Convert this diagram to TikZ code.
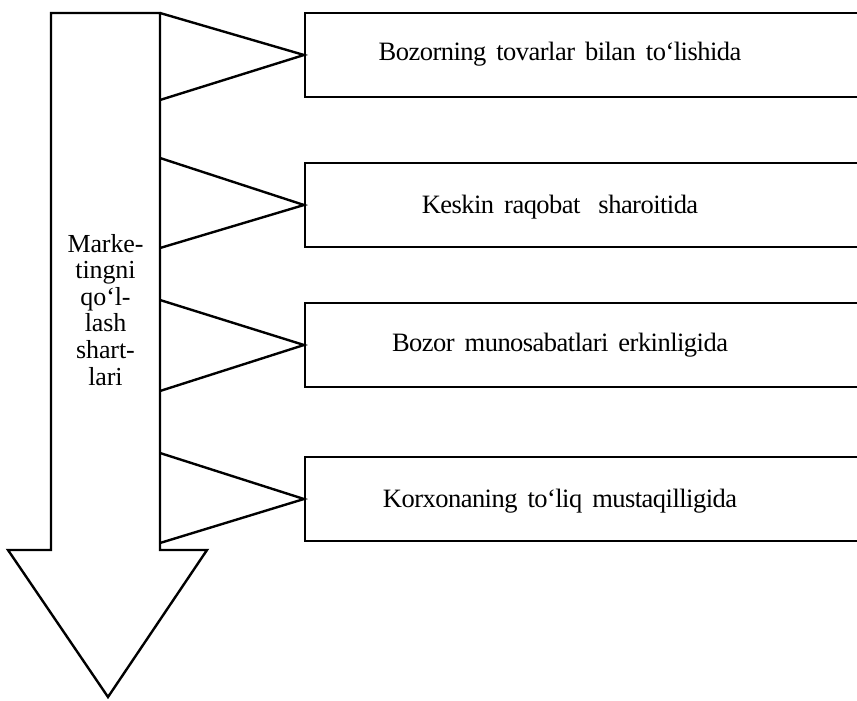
\documentclass[tikz,border=0pt]{standalone}
\usepackage{fontspec}
\setmainfont{Liberation Serif}
\newfontfamily\tfont[LetterSpace=-2]{Liberation Serif}
\newfontfamily\mfont[LetterSpace=-0.5]{Liberation Serif}
\newcommand{\gp}{\hspace{10pt}}
\begin{document}
\begin{tikzpicture}[x=1pt,y=-1pt,line width=2.4pt,line join=miter,
  box/.style={draw,rectangle,inner sep=0pt,minimum width=570pt,minimum height=84pt,anchor=west},
  txt/.style={inner sep=0pt,anchor=base,font=\tfont\fontsize{26.5}{27}\selectfont},
  cond/.style={line width=2.4pt}]
\useasboundingbox (0,0) rectangle (857,701);
% big arrow
\draw (51,13) -- (160,13) -- (160,550) -- (207,550) -- (108,697) -- (8,550) -- (51,550) -- cycle;
\node[inner sep=0pt,align=center,font=\mfont\fontsize{26}{26.6}\selectfont,anchor=base] (m) at (105.5,385)
  {Marke-\\tingni\\qo‘l-\\lash\\shart-\\lari};
% boxes
\node[box] (b1) at (304,55) {};
\node[box] (b2) at (304,205) {};
\node[box] (b3) at (304,345) {};
\node[box] (b4) at (304,499) {};
\node[txt] (t1) at (560,60) {Bozorning\gp tovarlar\gp bilan\gp to‘lishida};
\node[txt] (t2) at (560,213) {Keskin\gp raqobat\hspace{18pt}sharoitida};
\node[txt] (t3) at (560,351) {Bozor\gp munosabatlari\gp erkinligida};
\node[txt] (t4) at (560,507) {Korxonaning\gp to‘liq\gp mustaqilligida};
% connector triangles
\coordinate (a1) at (160,13);  \coordinate (c1) at (160,100);
\coordinate (a2) at (160,158); \coordinate (c2) at (160,248);
\coordinate (a3) at (160,300); \coordinate (c3) at (160,391);
\coordinate (a4) at (160,453); \coordinate (c4) at (160,543);
\draw[cond] (a1) -- (b1.west) -- (c1);
\draw[cond] (a2) -- (b2.west) -- (c2);
\draw[cond] (a3) -- (b3.west) -- (c3);
\draw[cond] (a4) -- (b4.west) -- (c4);
\end{tikzpicture}
\end{document}
